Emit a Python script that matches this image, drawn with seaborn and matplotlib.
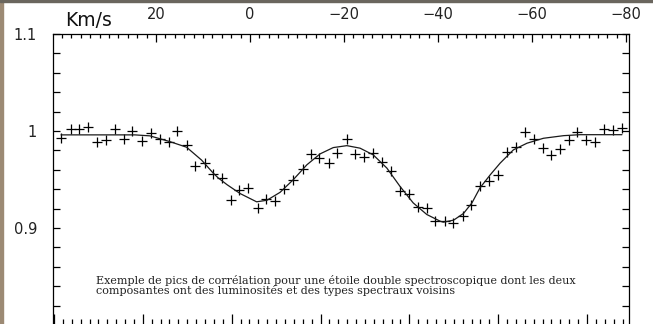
import numpy as np
import pandas as pd
import matplotlib
matplotlib.use('Agg')
import matplotlib.pyplot as plt
import seaborn as sns
from matplotlib.ticker import MultipleLocator, FixedLocator, FuncFormatter, NullFormatter, NullLocator
from matplotlib.patches import Rectangle

# ---------------- data ----------------
vel = [40.2, 38.1, 36.4, 34.4, 32.6, 30.6, 28.7, 26.7, 25.0, 22.9, 21.1, 19.1,
       17.2, 15.6, 13.5, 11.7, 9.6, 7.9, 6.0, 4.1, 2.3, 0.4, -1.6, -3.4, -5.3,
       -7.3, -9.2, -11.2, -13.0, -14.7, -16.7, -18.4, -20.6, -22.3, -24.3,
       -26.1, -28.1, -29.9, -31.9, -33.8, -35.7, -37.6, -39.4, -41.4, -43.1,
       -45.2, -47.0, -48.9, -50.9, -52.7, -54.6, -56.5, -58.5, -60.3, -62.3,
       -64.0, -66.0, -67.9, -69.6, -71.5, -73.4, -75.3, -77.2, -79.1]
corr = [0.9925, 1.0017, 1.0017, 1.0044, 0.989, 0.9908, 1.0017, 0.9915, 1.0003,
        0.990, 0.9976, 0.9915, 0.989, 1.0003, 0.9857, 0.9641, 0.9669, 0.9559,
        0.9515, 0.9293, 0.9388, 0.9409, 0.9208, 0.930, 0.9276, 0.9406, 0.9498,
        0.9608, 0.9764, 0.9726, 0.9675, 0.9778, 0.9915, 0.9764, 0.9737, 0.9778,
        0.9685, 0.9583, 0.9385, 0.9355, 0.9218, 0.9204, 0.9071, 0.9071, 0.9054,
        0.9122, 0.9242, 0.9436, 0.9488, 0.9546, 0.9788, 0.9839, 0.9993, 0.9915,
        0.9823, 0.9754, 0.9813, 0.9908, 0.9993, 0.9908, 0.9884, 1.002, 1.001,
        1.0028]

fit_vel = [40.2, 24.5, 21.3, 17.0, 13.5, 10.3, 7.9, 6.8, 4.9, 2.1, -1.4, -3.6,
           -6.4, -9.2, -12.1, -14.9, -17.7, -20.6, -23.4, -26.2, -29.1, -31.9,
           -34.7, -37.6, -40.4, -41.1, -43.3, -45.4, -47.2, -48.9, -51.1, -53.2,
           -56.0, -58.9, -62.4, -66.7, -70.2, -79.1]
fit_val = [0.996, 0.996, 0.995, 0.989, 0.9833, 0.970, 0.957, 0.9518, 0.9447,
           0.9355, 0.927, 0.9286, 0.9368, 0.9498, 0.9652, 0.9764, 0.9829, 0.9849,
           0.9823, 0.9754, 0.9618, 0.9429, 0.9259, 0.9139, 0.9071, 0.906, 0.9081,
           0.915, 0.9259, 0.9413, 0.9549, 0.9669, 0.9805, 0.9874, 0.9925, 0.9952,
           0.9962, 0.9962]

top_ticks = [20, 0, -20, -40, -60, -80]
y_ticks = [0.9, 1.0, 1.1]
axis_unit = 'Km/s'
caption = ("Exemple de pics de corrélation pour une étoile double spectroscopique dont les deux\n"
           "composantes ont des luminosités et des types spectraux voisins")

assert len(vel) == len(corr) and len(fit_vel) == len(fit_val)
pts = pd.DataFrame({'v': vel, 'c': corr})
fit = pd.DataFrame({'v': fit_vel, 'c': fit_val})

# ---------------- figure ----------------
sns.set_theme(style='white')
plt.rcParams['font.family'] = ['DejaVu Sans']
plt.rcParams['axes.unicode_minus'] = True

W, H = 653, 324
L, R, T, B = 53, 629, 34, 325
fig = plt.figure(figsize=(W / 100, H / 100), dpi=100)
fig.patch.set_facecolor('white')
ax = fig.add_axes([L / W, 1 - B / H, (R - L) / W, (B - T) / H])
ax.set_facecolor('white')

sns.lineplot(data=fit, x='v', y='c', ax=ax, color='#1a1a1a', linewidth=0.9,
             legend=False)
sns.scatterplot(data=pts, x='v', y='c', ax=ax, marker='+', s=42,
                color='black', linewidth=0.9, legend=False)

XL = (41.9, -80.6)
ax.set_xlim(*XL)
ax.set_ylim(0.8, 1.1)
ax.set_xlabel('')
ax.set_ylabel('')
ax.xaxis.set_major_locator(NullLocator())
ax.xaxis.set_minor_locator(NullLocator())

for s in ax.spines.values():
    s.set_color('black')
    s.set_linewidth(0.9)
    s.set_visible(True)

# y axis
ax.yaxis.set_major_locator(FixedLocator(y_ticks))
ax.yaxis.set_minor_locator(MultipleLocator(0.02))
ax.yaxis.set_major_formatter(FuncFormatter(lambda v, p: f'{v:g}'))
ax.tick_params(axis='y', which='both', direction='in', left=True, right=True,
               labelleft=True, labelright=False, length=5, color='black',
               width=0.9)
ax.tick_params(axis='y', which='major', pad=11.5, labelsize=10.5,
               labelcolor='#222222')

# top axis labels (velocities) on a twin axes
axt = ax.twiny()
axt.set_xlim(*XL)
axt.xaxis.tick_top()
axt.xaxis.set_major_locator(FixedLocator(top_ticks))
axt.xaxis.set_minor_locator(NullLocator())
axt.xaxis.set_tick_params(which='major', direction='in', top=True, bottom=False,
                          labeltop=True, labelbottom=False, length=0,
                          pad=8.5, labelsize=10.5, labelcolor='#222222')
axt.yaxis.set_visible(False)
for s in axt.spines.values():
    s.set_visible(False)

# top tick marks hanging down from the top spine (every 2 km/s, longer every 20)
minor_pos = [v for v in MultipleLocator(2).tick_values(XL[1], XL[0])
             if min(XL) <= v <= max(XL) and v not in top_ticks]
plot_h = B - T
ax.vlines(top_ticks, 1 - 8 / plot_h, 1, transform=ax.get_xaxis_transform(),
          colors='black', linewidth=0.9, clip_on=False, zorder=6)
ax.vlines(minor_pos, 1 - 4 / plot_h, 1, transform=ax.get_xaxis_transform(),
          colors='black', linewidth=0.9, clip_on=False, zorder=6)

# bottom axis: a second, unlabeled scale
axb = ax.twiny()
to_b = lambda v: (196 - 4.702 * v) / 88.83
axb.set_xlim(to_b(XL[0]), to_b(XL[1]))
axb.xaxis.tick_bottom()
axb.xaxis.set_major_locator(MultipleLocator(1))
axb.xaxis.set_minor_locator(MultipleLocator(0.1))
axb.xaxis.set_major_formatter(NullFormatter())
axb.xaxis.set_tick_params(which='both', direction='in', bottom=True, top=False,
                          labelbottom=False, labeltop=False, color='black',
                          width=0.9)
axb.xaxis.set_tick_params(which='major', length=8)
axb.xaxis.set_tick_params(which='minor', length=4)
axb.yaxis.set_visible(False)
for s in axb.spines.values():
    s.set_visible(False)

ax.text(0.021, 1.0275, axis_unit, transform=ax.transAxes, fontsize=13.5,
        ha='left', va='baseline', color='#111111')
ax.text(0.0747, 0.172, caption, transform=ax.transAxes, family='DejaVu Serif',
        fontsize=8.0, ha='left', va='top', linespacing=0.95, color='#222222')

# photo-border remnants of the original scan
fig.patches.append(Rectangle((0, 0), 3 / W, 1, transform=fig.transFigure,
                             color='#9c8a74', zorder=-1))
fig.patches.append(Rectangle((0, 1 - 2 / H), 1, 2 / H, transform=fig.transFigure,
                             color='#6a665e', zorder=-1))

fig.savefig('out.png', dpi=100)
